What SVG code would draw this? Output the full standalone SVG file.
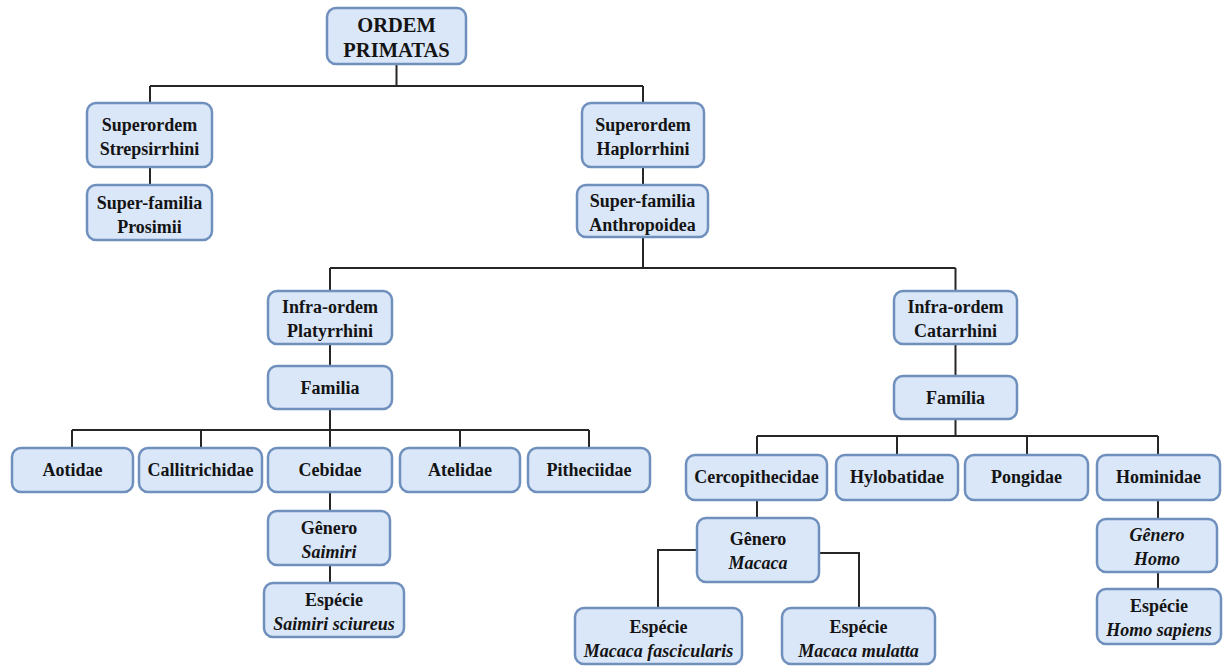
<svg xmlns="http://www.w3.org/2000/svg" width="1227" height="667" viewBox="0 0 1227 667">
<style>
.b{fill:#dae7f9;stroke:#6f8fbd;stroke-width:2.5}
.t text{font-weight:bold;font-size:18px;fill:#141414;text-anchor:middle}
.i{font-style:italic}
.t .big{font-size:20.5px}
.c{fill:none;stroke:#262626;stroke-width:2}
</style>
<rect width="1227" height="667" fill="#ffffff"/>
<g id="connectors" class="c">
<path d="M396.5,64V86M150,86H643M150,86V103M643,86V103"/>
<path d="M150,167V185M643,167V185"/>
<path d="M643,237V268M330,268H955.5M330,268V291M955.5,268V291"/>
<path d="M330,344V366M330,409V430M72,430H589M72,430V448M201,430V448M330,430V448M460,430V448M589,430V448"/>
<path d="M330,492V511M330,565V583"/>
<path d="M955.5,344V376M955.5,419V436M757,436H1158M757,436V455M897,436V455M1027,436V455M1158,436V455"/>
<path d="M757,500V518M697,550H658V608M819,553H859V608"/>
<path d="M1158,500V519M1158,572V589"/>
</g>
<g class="t" font-family="'Liberation Serif', 'Times New Roman', 'DejaVu Serif', serif">
<g id="ordem"><rect class="b" x="327" y="8" width="139" height="56" rx="9"/><text class="big" x="396.5" y="32">ORDEM</text><text class="big" x="396.5" y="57">PRIMATAS</text></g>
<g id="strepsirrhini"><rect class="b" x="87" y="103" width="125" height="64" rx="9"/><text x="149.5" y="131">Superordem</text><text x="149.5" y="155">Strepsirrhini</text></g>
<g id="prosimii"><rect class="b" x="87" y="185" width="125" height="55" rx="9"/><text x="149.5" y="209">Super-familia</text><text x="149.5" y="233">Prosimii</text></g>
<g id="haplorrhini"><rect class="b" x="582" y="103" width="122" height="64" rx="9"/><text x="643" y="131">Superordem</text><text x="643" y="155">Haplorrhini</text></g>
<g id="anthropoidea"><rect class="b" x="577" y="185" width="131" height="52" rx="9"/><text x="642.5" y="207">Super-familia</text><text x="642.5" y="231">Anthropoidea</text></g>
<g id="platyrrhini"><rect class="b" x="268" y="291" width="124" height="53" rx="9"/><text x="330" y="313">Infra-ordem</text><text x="330" y="337">Platyrrhini</text></g>
<g id="familia1"><rect class="b" x="268" y="366" width="124" height="43" rx="9"/><text x="330" y="394">Familia</text></g>
<g id="aotidae"><rect class="b" x="12" y="448" width="121" height="44" rx="9"/><text x="72.5" y="476">Aotidae</text></g>
<g id="callitrichidae"><rect class="b" x="139" y="448" width="123" height="44" rx="9"/><text x="200.5" y="476">Callitrichidae</text></g>
<g id="cebidae"><rect class="b" x="268" y="448" width="124" height="44" rx="9"/><text x="330" y="476">Cebidae</text></g>
<g id="atelidae"><rect class="b" x="400" y="448" width="120" height="44" rx="9"/><text x="460" y="476">Atelidae</text></g>
<g id="pitheciidae"><rect class="b" x="528" y="448" width="122" height="44" rx="9"/><text x="589" y="476">Pitheciidae</text></g>
<g id="genero-saimiri"><rect class="b" x="268" y="511" width="122" height="54" rx="9"/><text x="329" y="534">Gênero</text><text class="i" x="329" y="558">Saimiri</text></g>
<g id="especie-saimiri"><rect class="b" x="264" y="583" width="140" height="54" rx="9"/><text x="334" y="606">Espécie</text><text class="i" x="334" y="630">Saimiri sciureus</text></g>
<g id="catarrhini"><rect class="b" x="894" y="291" width="123" height="53" rx="9"/><text x="955.5" y="313">Infra-ordem</text><text x="955.5" y="337">Catarrhini</text></g>
<g id="familia2"><rect class="b" x="894" y="376" width="123" height="43" rx="9"/><text x="955.5" y="404">Família</text></g>
<g id="cercopithecidae"><rect class="b" x="686" y="455" width="141" height="45" rx="9"/><text x="756.5" y="483">Cercopithecidae</text></g>
<g id="hylobatidae"><rect class="b" x="836" y="455" width="122" height="45" rx="9"/><text x="897" y="483">Hylobatidae</text></g>
<g id="pongidae"><rect class="b" x="965" y="455" width="123" height="45" rx="9"/><text x="1026.5" y="483">Pongidae</text></g>
<g id="hominidae"><rect class="b" x="1097" y="455" width="123" height="45" rx="9"/><text x="1158.5" y="483">Hominidae</text></g>
<g id="genero-macaca"><rect class="b" x="697" y="518" width="122" height="64" rx="9"/><text x="758" y="545">Gênero</text><text class="i" x="758" y="569">Macaca</text></g>
<g id="especie-fascicularis"><rect class="b" x="575" y="608" width="167" height="56" rx="9"/><text x="658.5" y="633">Espécie</text><text class="i" x="658.5" y="657">Macaca fascicularis</text></g>
<g id="especie-mulatta"><rect class="b" x="782" y="608" width="153" height="56" rx="9"/><text x="858.5" y="633">Espécie</text><text class="i" x="858.5" y="657">Macaca mulatta</text></g>
<g id="genero-homo"><rect class="b" x="1097" y="519" width="120" height="53" rx="9"/><text class="i" x="1157" y="541">Gênero</text><text class="i" x="1157" y="565">Homo</text></g>
<g id="especie-homo"><rect class="b" x="1097" y="589" width="124" height="55" rx="9"/><text x="1159" y="612">Espécie</text><text class="i" x="1159" y="636">Homo sapiens</text></g>
</g>
</svg>
